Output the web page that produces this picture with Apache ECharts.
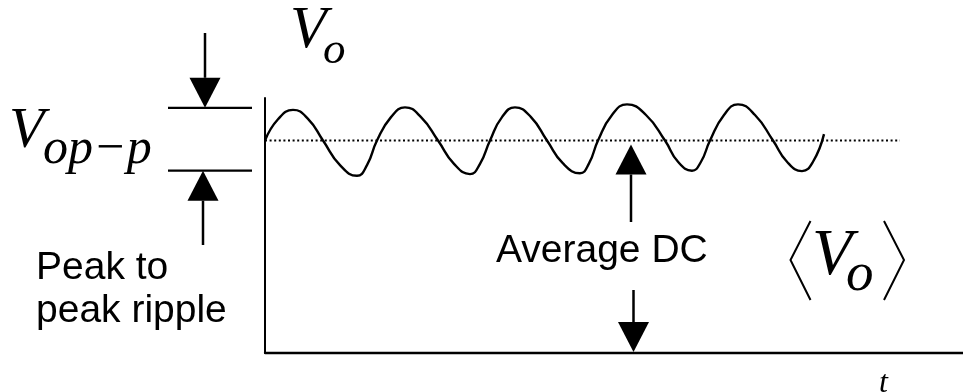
<!DOCTYPE html>
<html>
<head>
<meta charset="utf-8">
<title>Peak to peak ripple</title>
<script src="https://cdn.jsdelivr.net/npm/echarts@6/dist/echarts.min.js"></script>
<style>
  html, body { margin: 0; padding: 0; background: #fff; }
  #chart { width: 963px; height: 392px; }
</style>
</head>
<body>
<div id="chart"></div>
<script>
// ripple waveform (time axis 0..698, voltage axis 0..6)
const rippleTime = [
  0, 13, 28, 43, 58, 75, 92, 102, 112,
  126, 140, 156, 173, 189, 205, 215, 225,
  237, 250, 266, 282, 298, 315, 324, 333,
  347, 362, 381, 400, 413, 427, 436, 445,
  459, 473, 490, 508, 522, 537, 548, 559
]
const rippleVolt = [
  5.0, 5.5, 5.72, 5.51, 5.0, 4.42, 4.17, 4.42, 5.0,
  5.55, 5.78, 5.55, 5.0, 4.45, 4.21, 4.45, 5.0,
  5.55, 5.78, 5.55, 5.0, 4.46, 4.23, 4.46, 5.0,
  5.6, 5.85, 5.6, 5.0, 4.5, 4.29, 4.5, 5.0,
  5.6, 5.85, 5.6, 5.0, 4.5, 4.28, 4.5, 5.15
]
// average DC level (dotted line)
const dcTime = [0, 635]
const dcVolt = [5.0, 5.0]
// levels / positions used by the annotation arrows
const rippleTop = 5.77
const rippleBottom = 4.29
const avgArrowTime = 366

const BLACK = '#000'
const SERIF = '"Liberation Serif", "Times New Roman", serif'
const SANS = '"Liberation Sans", Arial, sans-serif'

const chart = echarts.init(document.getElementById('chart'))

chart.setOption({
  animation: false,
  backgroundColor: '#fff',
  grid: { left: 265, right: 0, top: 98, bottom: 39 },
  xAxis: {
    type: 'value', min: 0, max: 698,
    axisLine: { lineStyle: { color: BLACK, width: 2.3 } },
    axisTick: { show: false }, axisLabel: { show: false }, splitLine: { show: false }
  },
  yAxis: {
    type: 'value', min: 0, max: 6,
    axisLine: { show: true, lineStyle: { color: BLACK, width: 2 } },
    axisTick: { show: false }, axisLabel: { show: false }, splitLine: { show: false }
  },
  series: [
    {
      type: 'line',
      data: dcTime.map((t, i) => [t, dcVolt[i]]),
      showSymbol: false,
      lineStyle: { color: BLACK, width: 2, type: [2, 2.6], cap: 'butt' }
    },
    {
      type: 'line',
      data: rippleTime.map((t, i) => [t, rippleVolt[i]]),
      smooth: 0.5,
      showSymbol: false,
      lineStyle: { color: BLACK, width: 2.4 }
    }
  ]
})

// pixel helpers
const px = (t, v) => chart.convertToPixel({ gridIndex: 0 }, [t, v])
const yTop = px(0, rippleTop)[1]
const yBot = px(0, rippleBottom)[1]
const yDc = px(0, dcVolt[0])[1]
const yZero = px(0, 0)[1]
const xAvg = px(avgArrowTime, 0)[0]

function seg(x1, y1, x2, y2, w) {
  return { type: 'line', shape: { x1, y1, x2, y2 }, style: { stroke: BLACK, lineWidth: w || 2.5 } }
}
function head(x, tipY, dir) {
  // dir 1 = pointing down, -1 = pointing up
  const baseY = tipY - dir * 30
  return {
    type: 'polygon',
    shape: { points: [[x - 15.5, baseY], [x + 15.5, baseY], [x, tipY]] },
    style: { fill: BLACK }
  }
}
function label(text, x, y, font) {
  return {
    type: 'text', x, y,
    style: { text, font, fill: BLACK, align: 'left', verticalAlign: 'middle', textAlign: 'left', textVerticalAlign: 'middle' }
  }
}

chart.setOption({
  graphic: [
    // peak to peak markers on the left
    seg(168, yTop, 252, yTop, 2.3),
    seg(168, yBot, 252, yBot, 2.3),
    seg(205, 33, 205, yTop - 30),
    head(205, yTop, 1),
    seg(203, yBot + 30, 203, 245),
    head(203, yBot, -1),
    // average DC arrows
    seg(xAvg, yDc + 34, xAvg, 222),
    head(xAvg, yDc + 4, -1),
    seg(xAvg + 2.5, 290, xAvg + 2.5, yZero - 31),
    head(xAvg + 2.5, yZero - 1, 1),
    // angle brackets around V_o
    { type: 'polyline', shape: { points: [[810.5, 221], [790.5, 260], [810.5, 300]] }, style: { stroke: BLACK, lineWidth: 2, fill: null } },
    { type: 'polyline', shape: { points: [[884, 221], [904, 260], [884, 300]] }, style: { stroke: BLACK, lineWidth: 2, fill: null } },
    // labels
    label('V', 290, 31.5, 'italic 60px ' + SERIF),
    label('o', 323, 51, 'italic 45px ' + SERIF),
    label('V', 9, 132, 'italic 58px ' + SERIF),
    label('op\u2212p', 43, 150, 'italic 50px ' + SERIF),
    label('V', 812, 257, 'italic 66px ' + SERIF),
    label('o', 846, 276, 'italic 55px ' + SERIF),
    label('t', 879, 384, 'italic 32px ' + SERIF),
    label('Average DC', 496, 251.5, '39px ' + SANS),
    label('Peak to', 36, 268, '39px ' + SANS),
    label('peak ripple', 36, 311, '39px ' + SANS)
  ]
})
</script>
</body>
</html>
